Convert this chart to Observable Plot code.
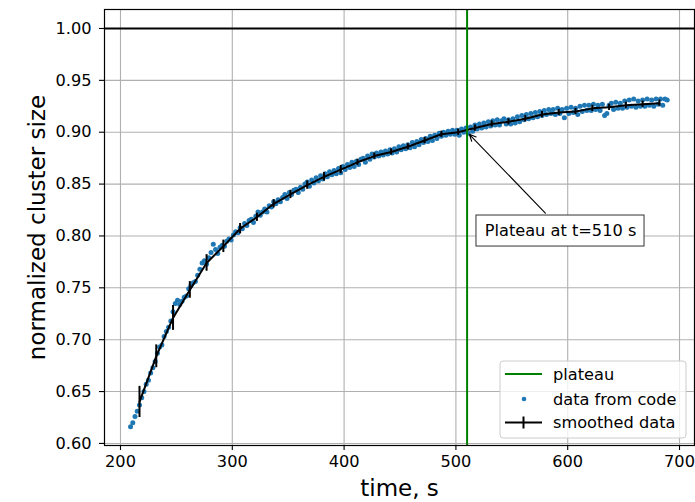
<!DOCTYPE html>
<html>
<head>
<meta charset="utf-8">
<script src="https://cdn.jsdelivr.net/npm/d3@7"></script>
<script src="https://cdn.jsdelivr.net/npm/@observablehq/plot@0.6"></script>
<style>
  html, body { margin: 0; padding: 0; background: #fff; }
  svg { display: block; }
</style>
</head>
<body>
<div id="chart"></div>
<script>
// ---- data ----
// raw samples: first time, sampling step (s) and values
const rawStart = 209;
const rawStep = 2;
const rawValues = [
  0.616,0.620,0.626,0.631,0.637,0.644,0.650,0.657,0.661,0.668,
  0.673,0.679,0.687,0.693,0.695,0.703,0.708,0.712,0.718,0.727,
  0.735,0.738,0.734,0.737,0.741,0.742,0.749,0.752,0.755,0.756,
  0.762,0.768,0.774,0.776,0.773,0.779,0.784,0.792,0.787,0.783,
  0.789,0.791,0.790,0.795,0.797,0.796,0.801,0.804,0.803,0.808,
  0.807,0.812,0.810,0.815,0.816,0.813,0.819,0.823,0.820,0.823,
  0.826,0.823,0.829,0.828,0.833,0.831,0.835,0.833,0.837,0.840,
  0.836,0.842,0.840,0.844,0.845,0.842,0.847,0.845,0.850,0.852,
  0.848,0.854,0.851,0.856,0.853,0.858,0.855,0.860,0.857,0.862,
  0.859,0.863,0.860,0.865,0.861,0.867,0.864,0.869,0.866,0.871,
  0.867,0.872,0.869,0.874,0.875,0.871,0.877,0.874,0.879,0.876,
  0.880,0.877,0.881,0.878,0.882,0.879,0.883,0.880,0.884,0.881,
  0.886,0.883,0.887,0.884,0.888,0.885,0.890,0.886,0.891,0.888,
  0.893,0.890,0.894,0.891,0.896,0.892,0.897,0.894,0.899,0.896,
  0.900,0.897,0.901,0.898,0.902,0.898,0.902,0.897,0.903,0.900,
  0.904,0.899,0.905,0.901,0.907,0.903,0.908,0.904,0.909,0.905,
  0.910,0.906,0.911,0.907,0.912,0.907,0.911,0.913,0.908,0.912,
  0.908,0.913,0.909,0.915,0.910,0.916,0.912,0.917,0.913,0.918,
  0.914,0.919,0.915,0.920,0.916,0.921,0.917,0.922,0.918,0.922,
  0.917,0.923,0.918,0.922,0.914,0.923,0.918,0.924,0.919,0.923,
  0.917,0.925,0.920,0.926,0.921,0.926,0.921,0.927,0.922,0.926,
  0.921,0.927,0.916,0.918,0.926,0.928,0.922,0.929,0.923,0.928,
  0.923,0.930,0.924,0.931,0.925,0.932,0.924,0.930,0.925,0.931,
  0.925,0.932,0.926,0.931,0.925,0.932,0.927,0.932,0.926,0.932,
  0.931
];

// smoothed data with error bars
const smoothTimes = [217,232,247,262,277,292,307,322,337,352,367,382,397,412,427,442,
                     457,472,487,502,517,532,547,562,577,592,607,622,637,652,667,682];
const smoothValues = [0.640,0.684,0.721,0.748,0.774,0.790,0.807,0.818,0.831,0.840,0.849,0.857,
                      0.864,0.871,0.877,0.881,0.886,0.892,0.898,0.900,0.904,0.908,0.910,0.913,
                      0.917,0.919,0.920,0.923,0.924,0.926,0.927,0.928];
const smoothErrors = [0.015,0.011,0.012,0.008,0.008,0.006,0.005,0.004,0.004,0.004,0.004,0.004,
                      0.004,0.003,0.003,0.003,0.003,0.003,0.003,0.003,0.003,0.003,0.003,0.003,
                      0.003,0.003,0.003,0.003,0.003,0.003,0.003,0.003];

const plateauTime = 510;
const referenceLevel = 1.0;
const annotationText = "Plateau at t=510 s";
const annotationArrow = {fromT: 580, fromV: 0.822, toT: 512, toV: 0.898};
const annotationBox = {t1: 518.4, t2: 668.7, v1: 0.7898, v2: 0.8197};

const xTicks = [200, 300, 400, 500, 600, 700];
const yTicks = [0.60, 0.65, 0.70, 0.75, 0.80, 0.85, 0.90, 0.95, 1.00];
const xLabel = "time, s";
const yLabel = "normalized cluster size";
const legendItems = ["plateau", "data from code", "smoothed data"];

// ---- tables ----
const raw = rawValues.map((v, i) => ({t: rawStart + rawStep * i, v}));
const smooth = smoothTimes.map((t, i) => ({t, v: smoothValues[i], e: smoothErrors[i]}));

const font = "DejaVu Sans, Liberation Sans, sans-serif";
const fs = 16.2;       // tick / legend / annotation font size
const fsLabel = 23;    // axis label font size
const W = 695, H = 502;
const mL = 104, mR = 1, mT = 9, mB = 57;

const chart = Plot.plot({
  width: W, height: H,
  marginLeft: mL, marginRight: mR, marginTop: mT, marginBottom: mB,
  x: {domain: [185.7, 713.4]},
  y: {domain: [0.598, 1.0183]},
  style: {fontFamily: font, fontSize: fs + "px", color: "black", background: "white"},
  marks: [
    Plot.gridX(xTicks, {stroke: "#b0b0b0", strokeOpacity: 1, strokeWidth: 1.1}),
    Plot.gridY(yTicks, {stroke: "#b0b0b0", strokeOpacity: 1, strokeWidth: 1.1}),
    Plot.axisX(xTicks, {tickSize: 5, tickPadding: 5, label: null, fontSize: fs, strokeWidth: 1.1}),
    Plot.axisY(yTicks, {tickSize: 5, tickPadding: 8, label: null, fontSize: fs, strokeWidth: 1.1,
                        tickFormat: d => d.toFixed(2)}),
    Plot.dot(raw, {x: "t", y: "v", r: 2.5, fill: "#1f77b4", stroke: null}),
    Plot.line(smooth, {x: "t", y: "v", stroke: "black", strokeWidth: 2}),
    Plot.ruleX(smooth, {x: "t", y1: d => d.v - d.e, y2: d => d.v + d.e, stroke: "black", strokeWidth: 2}),
    Plot.ruleY([referenceLevel], {stroke: "black", strokeWidth: 2}),
    Plot.ruleX([plateauTime], {stroke: "green", strokeWidth: 2}),
    Plot.arrow([annotationArrow], {x1: "fromT", y1: "fromV", x2: "toT", y2: "toV",
      stroke: "black", strokeWidth: 1.1, headLength: 10, headAngle: 50}),
    Plot.rect([annotationBox], {x1: "t1", x2: "t2", y1: "v1", y2: "v2",
      fill: "white", stroke: "#333", strokeWidth: 1}),
    Plot.text([annotationText], {x: d => (annotationBox.t1 + annotationBox.t2) / 2,
      y: d => (annotationBox.v1 + annotationBox.v2) / 2, text: d => d, fontSize: fs, fill: "black"}),
    Plot.frame({stroke: "black", strokeWidth: 1.2}),
    Plot.text([xLabel], {frameAnchor: "bottom", text: d => d, dy: 50, fontSize: fsLabel, fill: "black"}),
    Plot.text([yLabel], {frameAnchor: "left", text: d => d, dx: -67, rotate: -90,
      textAnchor: "middle", fontSize: fsLabel, fill: "black"})
  ]
});

// ---- legend (inside the plot, lower right) ----
const svg = d3.select(chart);
const right = W - mR - 8, bottom = H - mB - 7;
const lw = 186, lh = 77;
const lx = right - lw, ly = bottom - lh;
const lg = svg.append("g").attr("font-family", font).attr("font-size", fs)
  .attr("text-anchor", "start");
lg.append("rect").attr("x", lx).attr("y", ly).attr("width", lw).attr("height", lh)
  .attr("rx", 3).attr("fill", "white").attr("fill-opacity", 0.8)
  .attr("stroke", "#cccccc").attr("stroke-width", 1);
const rowY = [ly + 13, ly + 38, ly + 61.5];
// plateau
lg.append("line").attr("x1", lx + 5).attr("x2", lx + 42).attr("y1", rowY[0]).attr("y2", rowY[0])
  .attr("stroke", "green").attr("stroke-width", 2);
// dots
lg.append("circle").attr("cx", lx + 24).attr("cy", rowY[1]).attr("r", 2.3).attr("fill", "#1f77b4");
// smoothed
lg.append("line").attr("x1", lx + 5).attr("x2", lx + 42).attr("y1", rowY[2]).attr("y2", rowY[2])
  .attr("stroke", "black").attr("stroke-width", 2);
lg.append("line").attr("x1", lx + 23.5).attr("x2", lx + 23.5).attr("y1", rowY[2] - 6).attr("y2", rowY[2] + 6)
  .attr("stroke", "black").attr("stroke-width", 2);
legendItems.forEach((s, i) => {
  lg.append("text").attr("x", lx + 53).attr("y", rowY[i]).attr("dy", "0.35em")
    .attr("text-anchor", "start").attr("fill", "black").text(s);
});

document.getElementById("chart").appendChild(chart);
</script>
</body>
</html>
